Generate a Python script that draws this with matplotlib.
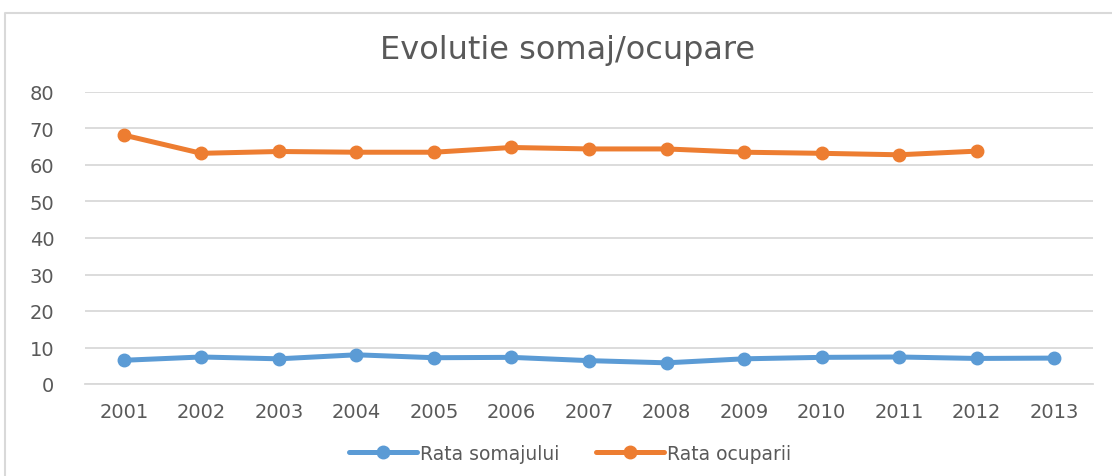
import matplotlib.pyplot as plt
from matplotlib.lines import Line2D

years = ['2001', '2002', '2003', '2004', '2005', '2006', '2007',
         '2008', '2009', '2010', '2011', '2012', '2013']
rata_somaj = [6.5, 7.4, 6.9, 8.0, 7.2, 7.3, 6.4, 5.8, 6.9, 7.3, 7.4, 7.0, 7.1]
rata_ocupare = [68.2, 63.2, 63.7, 63.5, 63.5, 64.8, 64.4, 64.4, 63.5, 63.2, 62.8, 63.8]

BLUE = '#5B9BD5'
ORANGE = '#ED7D31'
TXT = '#595959'

plt.rcParams['font.family'] = ['DejaVu Sans']

fig = plt.figure(figsize=(11.12, 4.77), dpi=100)
ax = fig.add_axes([85 / 1112, 1 - 385 / 477, 1008 / 1112, 292 / 477])

# chart frame: only the top and left edges show in the original
fx, fy = 4.5 / 1112, 1 - 13.5 / 477
fig.lines.append(Line2D([fx, fx, 1.0], [0.0, fy, fy], transform=fig.transFigure,
                        color='#d9d9d9', lw=1.5))

x = list(range(len(years)))
ax.plot(x, rata_somaj, color=BLUE, lw=3.6, marker='o', ms=9,
        label='Rata somajului', solid_capstyle='round')
ax.plot(x[:len(rata_ocupare)], rata_ocupare, color=ORANGE, lw=3.6, marker='o',
        ms=9, label='Rata ocuparii', solid_capstyle='round')

ax.set_xlim(-0.5, len(years) - 0.5)
ax.set_ylim(0, 80)
ax.set_yticks(range(0, 81, 10))
ax.set_xticks(x)
ax.set_xticklabels(years)
ax.grid(axis='y', color='#d9d9d9', lw=1.3)
ax.set_axisbelow(True)
for s in ax.spines.values():
    s.set_visible(False)
ax.spines['bottom'].set_visible(True)
ax.spines['bottom'].set_color('#d9d9d9')
ax.spines['bottom'].set_linewidth(1.3)
ax.tick_params(length=0, labelsize=14, colors=TXT, pad=13)
ax.tick_params(axis='y', pad=22)

fig.text(568 / 1112, 1 - 51 / 477, 'Evolutie somaj/ocupare', ha='center',
         va='center', fontsize=23, color=TXT)

leg = ax.legend(loc='center', bbox_to_anchor=(570 / 1112, 1 - 454 / 477),
                bbox_transform=fig.transFigure, ncol=2, frameon=False,
                fontsize=13.5, handlelength=3.6, handletextpad=0.15,
                columnspacing=2.0, labelcolor=TXT)

fig.savefig('out.png', dpi=100)
